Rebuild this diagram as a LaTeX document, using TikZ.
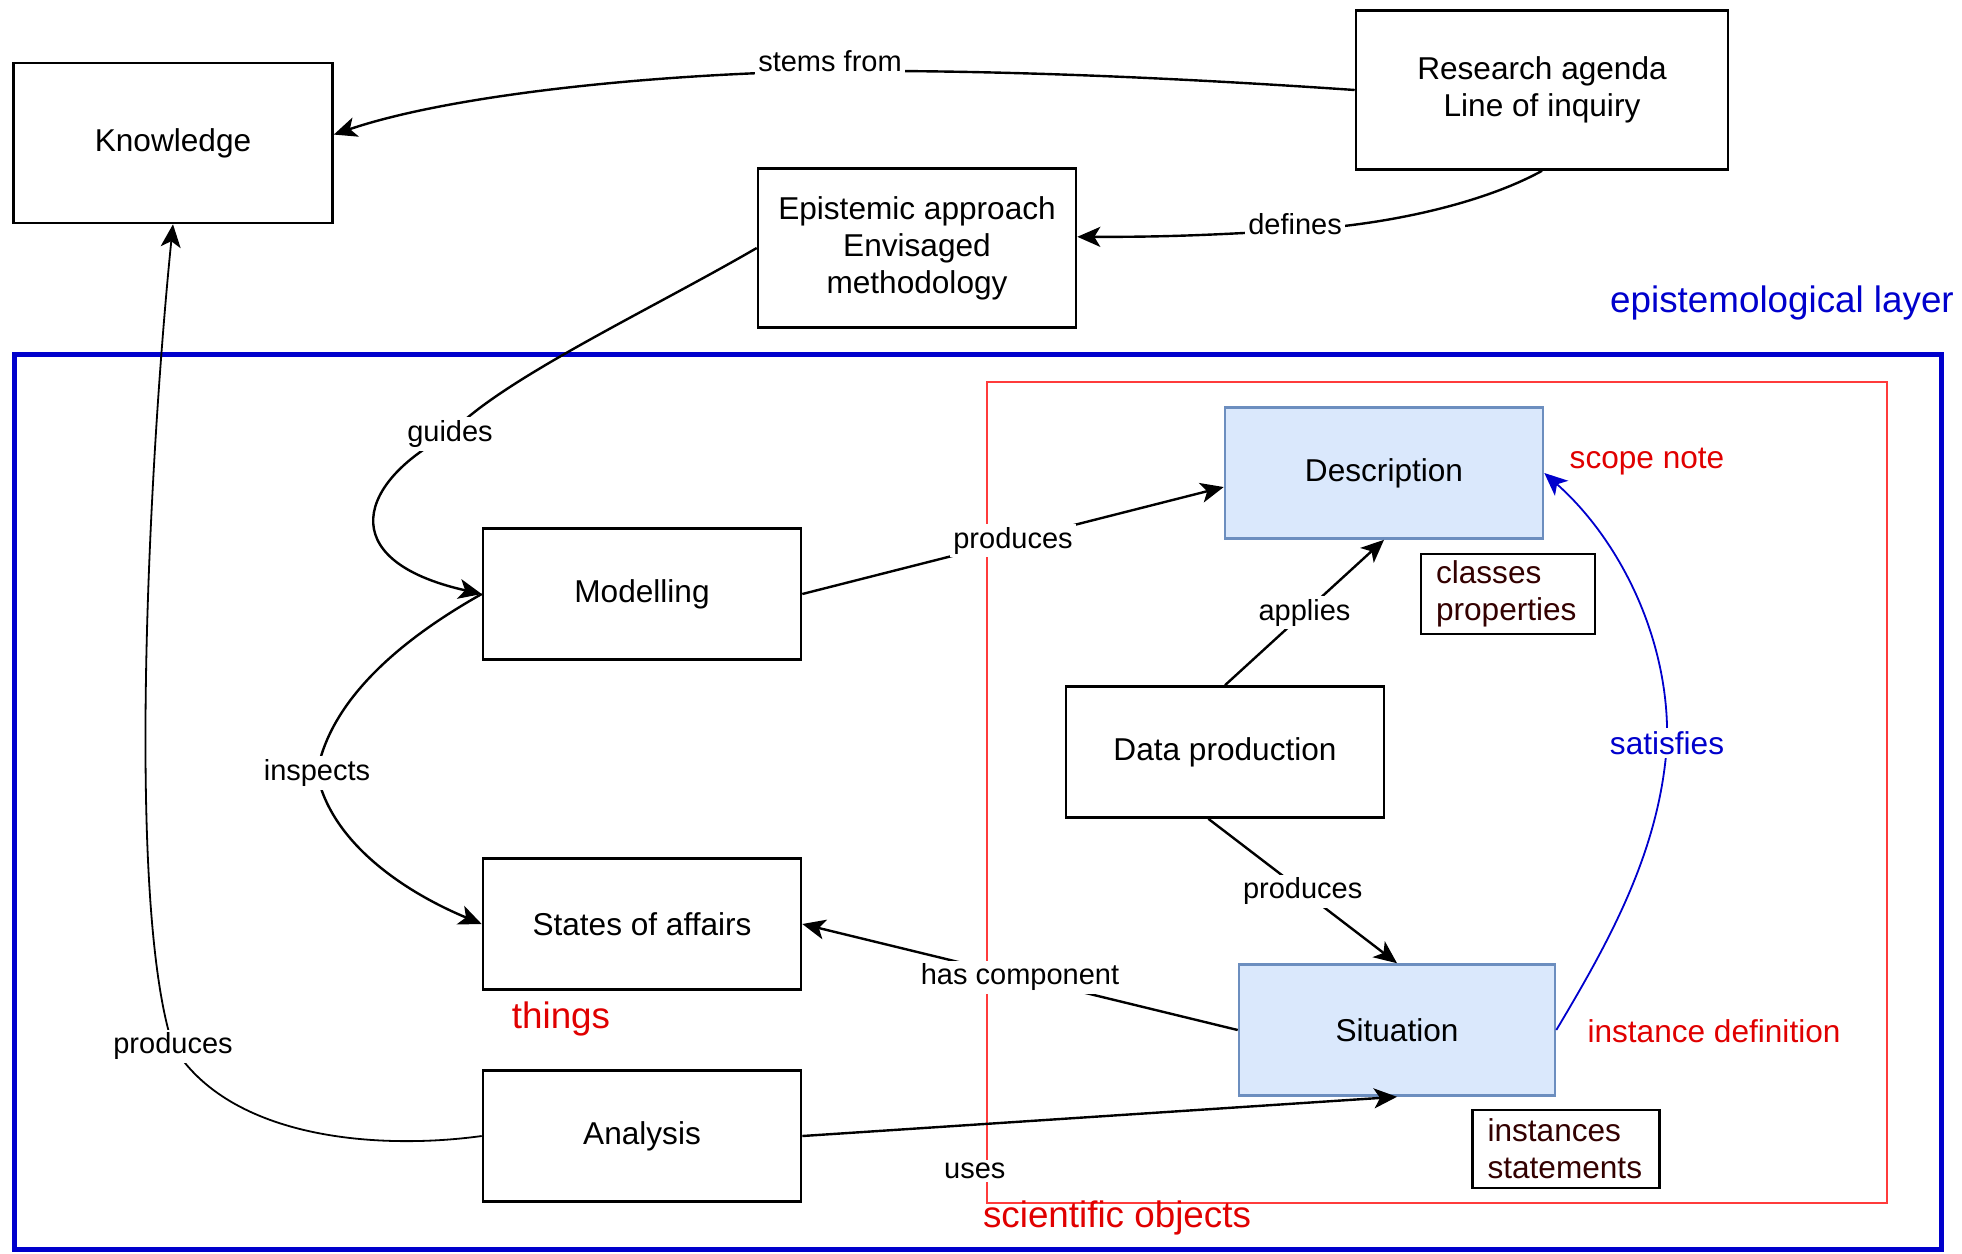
\documentclass[tikz,border=0pt]{standalone}
\usepackage{fontspec}
\setmainfont{Liberation Sans}
\usetikzlibrary{arrows.meta}
\definecolor{layerblue}{HTML}{0000CC}
\definecolor{scopered}{HTML}{E00000}
\definecolor{framered}{HTML}{FF3B3B}
\definecolor{objfill}{HTML}{DAE8FC}
\definecolor{objdraw}{HTML}{6C8EBF}
\definecolor{notebrown}{HTML}{330000}

\begin{document}
\begin{tikzpicture}[x=0.5pt,y=-0.5pt,->,>={Stealth[length=11.5pt,width=10pt,inset=3pt]},line width=1.2pt]
  \tikzstyle{box}=[draw,rectangle,fill=white,minimum width=159pt,minimum height=65.5pt,align=center,font=\fontsize{15.8}{18.5}\selectfont,line width=1.3pt]
  \tikzstyle{objbox}=[box,fill=objfill,draw=objdraw]
  \tikzstyle{lbl}=[fill=white,inner sep=1.5pt,font=\fontsize{14.5}{17}\selectfont]
  \tikzstyle{notebox}=[draw,line width=1.1pt,align=left,text=notebrown,inner xsep=7.5pt,font=\fontsize{15.8}{18.5}\selectfont]
  \tikzstyle{rednote}=[text=scopered,font=\fontsize{15.8}{18.5}\selectfont]
  \tikzstyle{bignote}=[font=\fontsize{18.4}{22}\selectfont]

  \useasboundingbox (0,0) rectangle (1962,1253);

  % layers
  \draw[-,draw=layerblue,line width=2.5pt] (14,354) rectangle (1941,1249);
  \draw[-,draw=framered,line width=0.8pt] (987,382) rectangle (1887,1203);
  \node[bignote,text=layerblue] (T_layer) at (1782,303) {epistemological layer};
  \node[bignote,text=scopered] (T_things) at (561,1019) {things};
  \node[bignote,text=scopered] (T_sci) at (1117,1218) {scientific objects};
  \node[rednote] (T_scope) at (1647,462) {scope note};
  \node[rednote] (T_inst) at (1714,1031) {instance definition};

  \node[box,minimum width=159.5pt,minimum height=80pt] (B_know) at (173,143) {Knowledge};
  \node[box,minimum width=186pt,minimum height=79.5pt] (B_agenda) at (1542,90) {Research agenda\\Line of inquiry};
  \node[box,minimum height=79.5pt] (B_appr) at (917,248) {Epistemic approach\\Envisaged\\methodology};
  \node[box] (B_model) at (642,594) {Modelling};
  \node[box] (B_states) at (642,924) {States of affairs};
  \node[box] (B_anal) at (642,1136) {Analysis};
  \node[box] (B_data) at (1225,752) {Data production};
  \node[objbox] (B_descr) at (1384,473) {Description};
  \node[objbox,minimum width=158pt] (B_sit) at (1397,1030) {Situation};
  \node[notebox,text width=72pt,minimum height=40pt] (N_classes) at (1508,594) {classes\\properties};
  \node[notebox,text width=78.5pt,minimum height=39pt] (N_inst) at (1566,1149) {instances\\statements};

  \draw (B_agenda.west) .. controls (1150,76) and (980,70) .. (830,71) node[lbl,yshift=5pt] {stems from}
        .. controls (650,74) and (450,95) .. (B_know.3);
  \draw (B_agenda.south) .. controls (1480,205) and (1380,226) .. (1295,230) node[lbl,yshift=3pt] {defines}
        .. controls (1200,236) and (1150,237) .. (B_appr.4);
  \draw (B_appr.west) .. controls (650,310) and (500,380) .. (450,434) node[lbl] {guides}
        .. controls (360,480) and (330,560) .. (B_model.west);
  \draw (B_model.west) .. controls (400,640) and (330,700) .. (317,773) node[lbl] {inspects}
        .. controls (330,840) and (400,890) .. (B_states.west);
  \draw[line width=0.9pt] (B_anal.west) .. controls (380,1150) and (230,1140) .. (173,1046) node[lbl] {produces}
        .. controls (125,900) and (150,450) .. (B_know.south);
  \draw (B_model.east) -- node[lbl] {produces} (B_descr.185);
  \draw (B_data.north) -- node[lbl] {applies} (B_descr.south);
  \draw (B_data.256) -- node[lbl] {produces} (B_sit.north);
  \draw (B_sit.west) -- node[lbl] {has component} (B_states.east);
  \draw (B_anal.east) -- node[lbl,pos=0.29,yshift=-23pt] {uses} (B_sit.south);
  \draw[draw=layerblue,line width=0.9pt] (B_sit.east) .. controls (1610,940) and (1660,850) .. (1667,743)
        node[lbl,text=layerblue,font=\fontsize{15.8}{18.5}\selectfont] {satisfies}
        .. controls (1670,640) and (1620,540) .. (B_descr.east);
\end{tikzpicture}
\end{document}
